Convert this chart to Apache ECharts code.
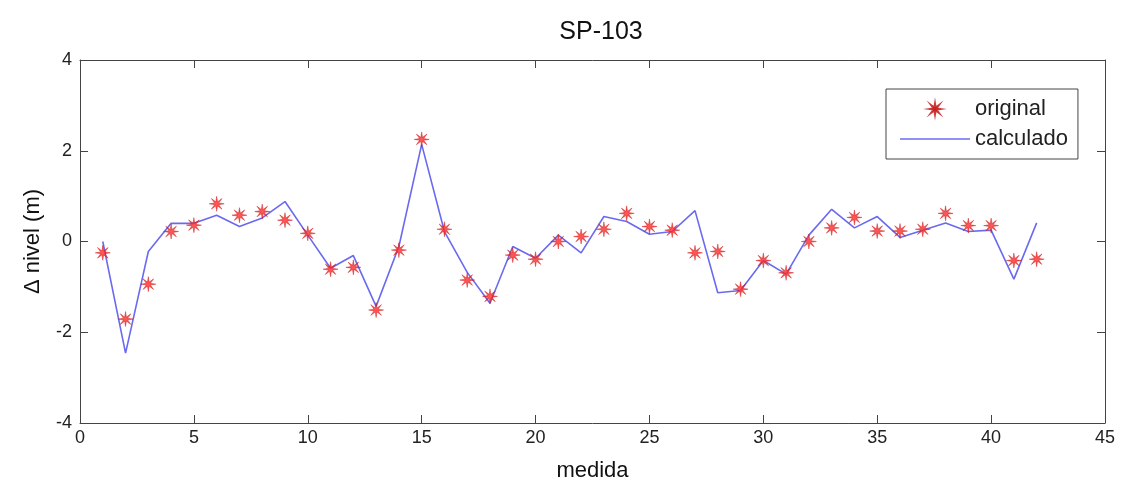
<!doctype html>
<html>
<head>
<meta charset="UTF-8">
<title>SP-103</title>
<script src="https://cdn.jsdelivr.net/npm/echarts@6/dist/echarts.min.js"></script>
<style>
  html, body { margin: 0; padding: 0; background: #fff; }
  #chart { width: 1122px; height: 487px; }
</style>
</head>
<body>
<div id="chart"></div>
<script>
// medida 1..42
var medida = [1,2,3,4,5,6,7,8,9,10,11,12,13,14,15,16,17,18,19,20,21,22,23,24,25,26,27,28,29,30,31,32,33,34,35,36,37,38,39,40,41,42];
var original = [-0.25,-1.71,-0.94,0.22,0.36,0.83,0.58,0.66,0.47,0.18,-0.61,-0.57,-1.51,-0.19,2.25,0.27,-0.85,-1.21,-0.30,-0.39,0.0,0.11,0.27,0.62,0.33,0.25,-0.25,-0.22,-1.05,-0.42,-0.69,0.0,0.30,0.53,0.23,0.23,0.27,0.62,0.35,0.35,-0.42,-0.39];
var calculado = [0.0,-2.46,-0.22,0.40,0.40,0.58,0.33,0.52,0.88,0.14,-0.59,-0.31,-1.43,-0.11,2.14,0.22,-0.68,-1.36,-0.11,-0.37,0.14,-0.25,0.55,0.44,0.16,0.22,0.68,-1.13,-1.08,-0.42,-0.72,0.14,0.71,0.30,0.55,0.09,0.25,0.41,0.22,0.25,-0.83,0.41];
var xTicks = [0,5,10,15,20,25,30,35,40,45];
var yTicks = [-4,-2,0,2,4];

var starPath = 'path://M20,10L12.77,11.15L17.07,17.07L11.15,12.77L10,20L8.85,12.77L2.93,17.07L7.23,11.15L0,10L7.23,8.85L2.93,2.93L8.85,7.23L10,0L11.15,7.23L17.07,2.93L12.77,8.85Z';

var font = 'Liberation Sans';
var chart = echarts.init(document.getElementById('chart'));

function pairs(ys) {
  return medida.map(function (m, i) { return [m, ys[i]]; });
}

var axisCommon = {
  type: 'value',
  axisLine: { show: true, onZero: false, lineStyle: { color: '#444', width: 1 } },
  axisTick: { show: true, inside: true, length: 8, lineStyle: { color: '#444' } },
  splitLine: { show: false }
};

chart.setOption({
  animation: false,
  title: {
    text: 'SP-103',
    left: 596, top: 15, textAlign: 'center',
    textStyle: { fontFamily: font, fontSize: 25, fontWeight: 'normal', color: '#111' }
  },
  legend: {
    left: 886, top: 89,
    orient: 'vertical',
    itemGap: 8,
    itemWidth: 70, itemHeight: 11,
    padding: [9, 10, 9, 14],
    borderColor: '#444', borderWidth: 1,
    backgroundColor: '#fff',
    textStyle: { fontFamily: font, fontSize: 22, color: '#222' },
    data: [
      { name: 'original', icon: starPath, itemStyle: { color: '#ff2a2a' } },
      { name: 'calculado', icon: 'path://M0,9L70,9L70,10.4L0,10.4Z', itemStyle: { color: '#6a6af0' } }
    ]
  },
  grid: { left: 80, right: 17, top: 60, bottom: 64 },
  xAxis: [
    Object.assign({}, axisCommon, {
      min: 0, max: 45, interval: 5, position: 'bottom',
      name: 'medida', nameLocation: 'middle', nameGap: 37,
      nameTextStyle: { fontFamily: font, fontSize: 22, color: '#111' },
      axisLabel: { fontFamily: font, fontSize: 18, color: '#222', margin: 6 }
    }),
    Object.assign({}, axisCommon, {
      min: 0, max: 45, interval: 5, position: 'top',
      axisLabel: { show: false }
    })
  ],
  yAxis: [
    Object.assign({}, axisCommon, {
      min: -4, max: 4, interval: 2, position: 'left',
      name: '\u0394 nivel (m)', nameLocation: 'middle', nameGap: 36,
      nameTextStyle: { fontFamily: font, fontSize: 22, color: '#111' },
      axisLabel: { fontFamily: font, fontSize: 18, color: '#222', margin: 8 }
    }),
    Object.assign({}, axisCommon, {
      min: -4, max: 4, interval: 2, position: 'right',
      axisLabel: { show: false }
    })
  ],
  series: [
    {
      name: 'calculado',
      type: 'line',
      data: pairs(calculado),
      showSymbol: false,
      symbol: 'none',
      lineStyle: { color: '#6a6af0', width: 1.6 },
      itemStyle: { color: '#6a6af0' },
      z: 2
    },
    {
      name: 'original',
      type: 'scatter',
      data: pairs(original),
      symbol: starPath,
      symbolSize: 15,
      itemStyle: { color: '#ff2a2a', borderColor: '#c01010', borderWidth: 0.5 },
      z: 3
    }
  ]
});
</script>
</body>
</html>
